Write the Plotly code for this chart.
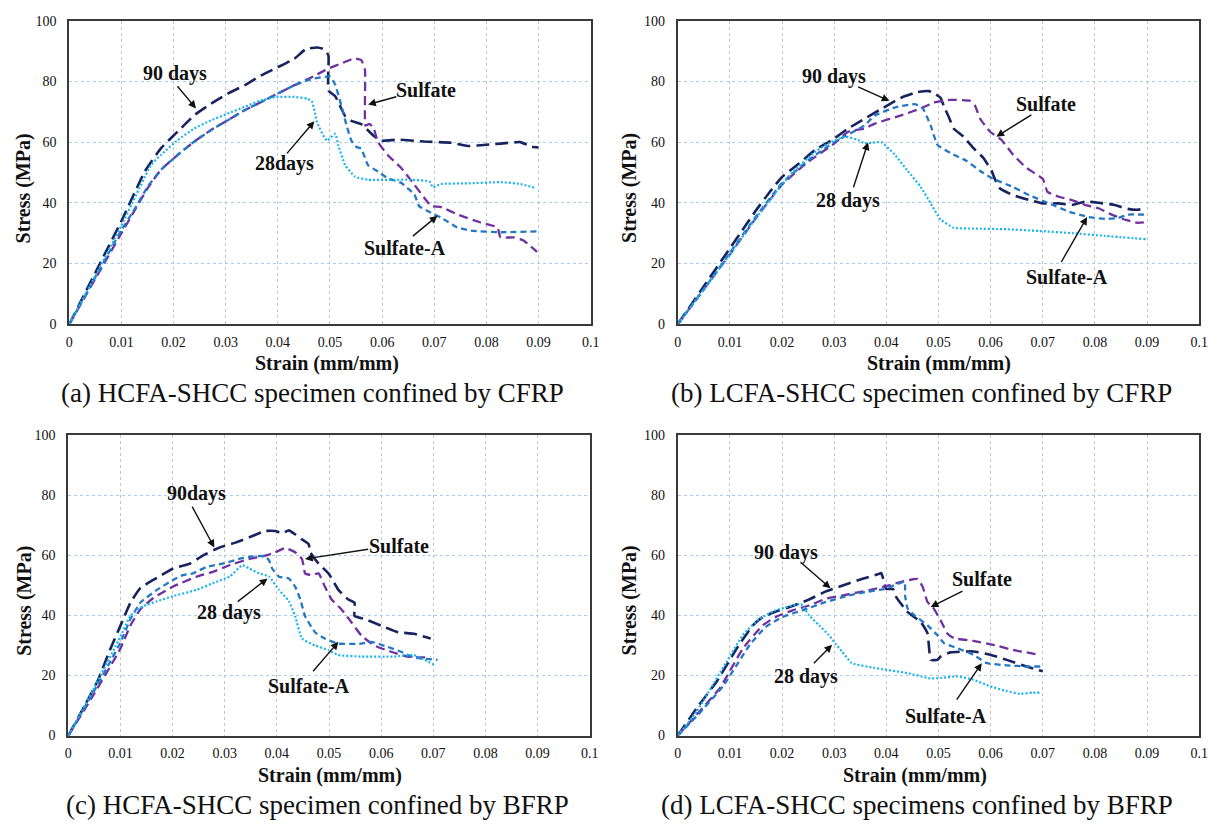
import plotly.graph_objects as go

# ---------------- data (strain, stress) ----------------
SERIES = ["90 days", "Sulfate", "Sulfate-A", "28 days"]

# (a) HCFA-SHCC / CFRP
A_90_X = [0, 0.005, 0.01, 0.0145, 0.0176, 0.0208, 0.024, 0.0272, 0.0304, 0.0336, 0.0368, 0.04, 0.0431, 0.0454, 0.0476, 0.0489, 0.0497, 0.0497, 0.051, 0.0529, 0.0541, 0.056, 0.0583, 0.0598, 0.063, 0.0681, 0.0732, 0.0764, 0.0783, 0.0827, 0.0865, 0.0887, 0.09]
A_90_Y = [0, 17, 34, 50.4, 58, 63.5, 68.9, 72.7, 76, 78.7, 82, 84.7, 87.4, 90.7, 91.2, 90.6, 88.5, 77, 75.1, 68.6, 67, 65.9, 62.2, 60.5, 60.8, 60.2, 59.8, 58.7, 58.9, 59.5, 60, 58.5, 58.2]
A_SU_X = [0, 0.005, 0.01, 0.0122, 0.0151, 0.0176, 0.0208, 0.024, 0.0272, 0.0304, 0.0336, 0.0368, 0.04, 0.0431, 0.0463, 0.0495, 0.0527, 0.0546, 0.056, 0.0567, 0.0568, 0.0575, 0.0583, 0.0592, 0.0611, 0.0637, 0.0662, 0.0681, 0.0694, 0.0713, 0.0744, 0.0789, 0.0821, 0.0827, 0.0852, 0.0871, 0.0897]
A_SU_Y = [0, 15, 30, 36.5, 45, 50.9, 55.8, 60.2, 64, 67.2, 70.5, 73.2, 76, 78.7, 81.2, 84.1, 86.3, 87.6, 87, 83.8, 65.4, 66, 64.9, 60, 55.7, 51.4, 45.9, 41.6, 38.9, 38.6, 36.2, 33.5, 31.9, 28.6, 28.6, 27.6, 23.8]
A_SA_X = [0, 0.005, 0.01, 0.0122, 0.0151, 0.0176, 0.0208, 0.024, 0.0272, 0.0304, 0.0336, 0.0368, 0.04, 0.0431, 0.0463, 0.05, 0.051, 0.0522, 0.0532, 0.0541, 0.0551, 0.056, 0.0573, 0.0592, 0.0611, 0.0637, 0.0662, 0.0671, 0.0687, 0.0713, 0.0744, 0.077, 0.0827, 0.0903]
A_SA_Y = [0, 15.5, 31, 37, 45.5, 50.9, 55.8, 60.2, 64, 67.2, 70.5, 73.2, 76, 78.7, 80.7, 81.6, 78.9, 71.9, 65.4, 60.5, 58.4, 57.8, 52.4, 50.3, 48.1, 46.5, 42.7, 38.9, 37.3, 35.1, 31.9, 30.8, 30.3, 30.6]
A_28_X = [0, 0.005, 0.01, 0.0157, 0.0176, 0.0208, 0.024, 0.0272, 0.0304, 0.0336, 0.0368, 0.04, 0.0431, 0.0457, 0.0465, 0.0471, 0.0475, 0.0494, 0.051, 0.0516, 0.0529, 0.0548, 0.0573, 0.0656, 0.0691, 0.0697, 0.0713, 0.0763, 0.0827, 0.0865, 0.0894]
A_28_Y = [0, 16, 32.5, 52.5, 55.8, 60.7, 64.5, 67.2, 69.4, 71.6, 73.8, 74.9, 74.9, 74.3, 73.5, 69.7, 66.5, 60.5, 62.7, 58.9, 52.4, 48.6, 47.6, 47.6, 47, 45.1, 46.2, 46.4, 46.8, 46.2, 44.9]

# (b) LCFA-SHCC / CFRP
B_90_X = [0, 0.005, 0.01, 0.0126, 0.015, 0.0176, 0.02, 0.0233, 0.0264, 0.0296, 0.0327, 0.0358, 0.039, 0.0428, 0.046, 0.0482, 0.0495, 0.0504, 0.051, 0.052, 0.0529, 0.0548, 0.0567, 0.0586, 0.0602, 0.0608, 0.0618, 0.0643, 0.0674, 0.07, 0.0731, 0.0756, 0.0781, 0.0807, 0.0838, 0.0863, 0.0882, 0.0898]
B_90_Y = [0, 12.5, 25, 31.5, 37.5, 43.5, 48.5, 53, 57.5, 60.7, 64.5, 67.7, 70.9, 74.6, 76.5, 76.8, 75.7, 74.6, 72, 68.2, 64.5, 61.8, 58, 54.8, 50.5, 47.9, 44.7, 42.5, 40.9, 39.8, 39.8, 39.3, 40.4, 40, 39.3, 38, 37.7, 38.2]
B_SU_X = [0, 0.005, 0.01, 0.015, 0.02, 0.025, 0.03, 0.0327, 0.0358, 0.0378, 0.0428, 0.0466, 0.0491, 0.0523, 0.0561, 0.057, 0.058, 0.0599, 0.0621, 0.0643, 0.0668, 0.07, 0.0709, 0.0731, 0.0756, 0.0781, 0.0807, 0.0832, 0.0857, 0.0882, 0.0898]
B_SU_Y = [0, 11.5, 23, 35, 46, 53.5, 59.5, 63.4, 64.5, 66.1, 68.8, 71.1, 73, 73.9, 73.6, 72, 67.7, 63.4, 60.7, 55.9, 51.6, 47.9, 43.6, 42, 40.9, 39.3, 38.2, 36.1, 34.5, 33.4, 33.6]
B_SA_X = [0, 0.005, 0.01, 0.015, 0.02, 0.025, 0.03, 0.0358, 0.0378, 0.0416, 0.0454, 0.0469, 0.0485, 0.0498, 0.0523, 0.0554, 0.058, 0.0605, 0.0643, 0.0674, 0.0712, 0.075, 0.0788, 0.082, 0.0845, 0.0863, 0.0898]
B_SA_Y = [0, 11.5, 23.5, 35.5, 46.5, 54, 60, 65.5, 68.8, 71.4, 72.5, 71.4, 65.5, 59.1, 56.4, 53.8, 50.5, 47.9, 45.2, 42.5, 39.8, 37.1, 35.3, 34.7, 35, 36.1, 36.1]
B_28_X = [0, 0.005, 0.01, 0.015, 0.02, 0.022, 0.0264, 0.0296, 0.0321, 0.0346, 0.0358, 0.039, 0.0416, 0.0441, 0.0466, 0.0485, 0.0504, 0.0529, 0.0567, 0.063, 0.0693, 0.0756, 0.0819, 0.0898]
B_28_Y = [0, 11.5, 23, 35, 46, 50, 56.9, 60.2, 61.8, 60.7, 59.6, 60, 55.9, 50.5, 45.2, 39.8, 34.5, 31.8, 31.5, 31.3, 30.7, 30, 29.1, 28]

# (c) HCFA-SHCC / BFRP
C_90_X = [0, 0.003, 0.0056, 0.0081, 0.01, 0.0119, 0.0138, 0.0163, 0.0201, 0.0233, 0.0258, 0.029, 0.0322, 0.0353, 0.0378, 0.0397, 0.041, 0.0423, 0.0435, 0.0448, 0.0461, 0.0464, 0.048, 0.0499, 0.0518, 0.0537, 0.0549, 0.0549, 0.0568, 0.06, 0.0632, 0.0663, 0.0695]
C_90_Y = [0, 9.5, 18.1, 29, 36.6, 44.2, 49.1, 51.8, 55.6, 57.2, 59.9, 62.6, 64.3, 66.4, 68.1, 68.1, 67.3, 68.3, 67, 65.3, 63.7, 61, 57.2, 54, 48.5, 45.3, 44.2, 39.8, 38.8, 36.6, 34.4, 33.9, 32.3]
C_SU_X = [0, 0.005, 0.01, 0.0119, 0.0138, 0.0163, 0.0201, 0.0246, 0.0277, 0.0309, 0.0347, 0.0378, 0.0397, 0.0416, 0.0435, 0.0448, 0.0451, 0.0454, 0.0467, 0.048, 0.0492, 0.0505, 0.0524, 0.0543, 0.0562, 0.0587, 0.0619, 0.0651, 0.0695]
C_SU_Y = [0, 14, 29, 36.6, 42, 45.8, 49.6, 52.9, 54.5, 56.7, 58.8, 59.9, 61, 62.4, 61, 58.8, 56.7, 54, 53.4, 54, 49.6, 45.3, 42, 37.7, 33.3, 30, 27.9, 26.3, 26]
C_SA_X = [0, 0.005, 0.01, 0.0119, 0.0138, 0.017, 0.0201, 0.022, 0.0239, 0.0265, 0.0296, 0.0328, 0.0353, 0.0378, 0.0385, 0.0391, 0.0404, 0.0423, 0.0435, 0.0445, 0.0454, 0.0473, 0.0492, 0.0518, 0.0562, 0.0581, 0.0613, 0.0638, 0.0663, 0.0708]
C_SA_Y = [0, 15, 31, 38.8, 44.2, 48.5, 51.8, 53.4, 54, 56.1, 57.2, 58.8, 59.6, 59.7, 58.3, 55.6, 52.9, 52.3, 49.6, 45.3, 39.8, 34.4, 32.3, 30.6, 30.6, 31.2, 29.5, 27.9, 26, 25.2]
C_28_X = [0, 0.005, 0.01, 0.0119, 0.0144, 0.017, 0.0201, 0.0246, 0.0277, 0.0309, 0.0334, 0.0347, 0.0366, 0.0385, 0.0404, 0.0423, 0.0435, 0.0448, 0.0473, 0.0499, 0.0518, 0.0562, 0.0625, 0.0663, 0.0701]
C_28_Y = [0, 16, 33, 39.8, 43.1, 44.7, 46.4, 48.5, 50.7, 52.9, 56.7, 55.6, 54, 52.9, 48.5, 44.7, 39.8, 32.3, 30, 28.4, 26.8, 26.3, 26.3, 26.8, 23.6]

# (d) LCFA-SHCC / BFRP
D_90_X = [0, 0.0037, 0.0075, 0.0113, 0.0144, 0.0163, 0.0188, 0.022, 0.0252, 0.0283, 0.0315, 0.0353, 0.0384, 0.039, 0.0396, 0.04, 0.0413, 0.0419, 0.0441, 0.0466, 0.0479, 0.0482, 0.0485, 0.0498, 0.0504, 0.0523, 0.0567, 0.0599, 0.0631, 0.0669, 0.07]
D_90_Y = [0, 9.3, 18.1, 29, 36.7, 39.5, 41.3, 43.1, 45.3, 47.9, 49.9, 52.1, 53.7, 54.1, 51, 48.8, 48.8, 46.1, 41.1, 37.8, 34, 29.1, 25.2, 25.2, 26.3, 27.7, 28, 26.9, 25.2, 23, 21.4]
D_SU_X = [0, 0.0037, 0.0081, 0.0125, 0.0163, 0.0188, 0.022, 0.0252, 0.0283, 0.0315, 0.0346, 0.0378, 0.0403, 0.0428, 0.046, 0.047, 0.0479, 0.0489, 0.0504, 0.0517, 0.053, 0.0567, 0.0605, 0.0643, 0.0694]
D_SU_Y = [0, 7.1, 15.9, 29, 36.7, 39.5, 41.7, 43.3, 45.5, 46.6, 47.7, 48.8, 49.9, 51.2, 52.1, 49.4, 44.4, 42.8, 38.4, 34, 32.4, 31.5, 30.2, 28.5, 26.9]
D_SA_X = [0, 0.0037, 0.0087, 0.0138, 0.0169, 0.0201, 0.0239, 0.0283, 0.0327, 0.0365, 0.0397, 0.041, 0.0435, 0.0436, 0.0441, 0.0454, 0.0479, 0.0498, 0.0511, 0.0536, 0.0567, 0.0593, 0.0631, 0.0669, 0.07]
D_SA_Y = [0, 6.6, 16.5, 30.2, 36.2, 39.5, 41.7, 44.4, 46.6, 47.9, 48.8, 49.7, 51.2, 46.6, 42.2, 40, 36.7, 33.4, 30.7, 29.1, 26.9, 24.1, 23.4, 23, 23]
D_28_X = [0, 0.0037, 0.0094, 0.0125, 0.0157, 0.0188, 0.022, 0.0236, 0.0252, 0.0271, 0.029, 0.0302, 0.0315, 0.0334, 0.0378, 0.0441, 0.0485, 0.0504, 0.0536, 0.0567, 0.0599, 0.0631, 0.0656, 0.0681, 0.0694]
D_28_Y = [0, 8.2, 24.7, 33.5, 38.9, 41.7, 43.3, 43.9, 40, 36.7, 33.4, 30.7, 28, 24.1, 22.5, 20.8, 19, 19.2, 19.7, 18.6, 16.4, 14.8, 13.9, 14.3, 14.3]

X_TICKS = [0, 0.01, 0.02, 0.03, 0.04, 0.05, 0.06, 0.07, 0.08, 0.09, 0.1]
X_TICK_TEXT = ["0", "0.01", "0.02", "0.03", "0.04", "0.05", "0.06", "0.07", "0.08", "0.09", "0.1"]
Y_TICKS = [0, 20, 40, 60, 80, 100]
X_TITLE = "Strain (mm/mm)"
Y_TITLE = "Stress (MPa)"
CAPTIONS = ["(a) HCFA-SHCC specimen confined by CFRP",
            "(b) LCFA-SHCC specimen confined by CFRP",
            "(c) HCFA-SHCC specimen confined by BFRP",
            "(d) LCFA-SHCC specimens confined by BFRP"]
LABEL_90 = ["90 days", "90 days", "90days", "90 days"]
LABEL_28 = ["28days", "28 days", "28 days", "28 days"]

PANELS = [
    [(A_90_X, A_90_Y), (A_SU_X, A_SU_Y), (A_SA_X, A_SA_Y), (A_28_X, A_28_Y)],
    [(B_90_X, B_90_Y), (B_SU_X, B_SU_Y), (B_SA_X, B_SA_Y), (B_28_X, B_28_Y)],
    [(C_90_X, C_90_Y), (C_SU_X, C_SU_Y), (C_SA_X, C_SA_Y), (C_28_X, C_28_Y)],
    [(D_90_X, D_90_Y), (D_SU_X, D_SU_Y), (D_SA_X, D_SA_Y), (D_28_X, D_28_Y)],
]

# ---------------- styling ----------------
W, H = 1225, 830
SERIF = "Liberation Serif, Times New Roman, serif"
COLORS = ["#17245f", "#7030a0", "#2378c4", "#19b4ee"]
DASHES = ["13px,6px", "9px,5px", "6px,4px", "2px,2px"]
WIDTHS = [2.6, 2.3, 2.3, 2.2]

# plot-area pixel boxes: left, right, top, bottom
BOXES = [(66, 593, 14, 323), (681, 1208, 14, 323), (65, 592, 436, 742), (681, 1208, 436, 742)]

# annotation layout per panel: (label, text x, text y, tail x, tail y, tip x, tip y)
NOTES = [
    [(0, 0.0202, 82.5, 0.0205, 78.9, 0.0243, 71.1), (1, 0.0684, 77.3, 0.063, 75.1, 0.0573, 72.4),
     (3, 0.0412, 52.8, 0.0415, 55.8, 0.047, 66.9), (2, 0.0643, 25.2, 0.0656, 28.6, 0.0706, 35.7)],
    [(0, 0.0299, 81.6, 0.0343, 78.4, 0.0406, 73.6), (1, 0.0706, 72.5, 0.0681, 69.3, 0.0611, 61.8),
     (3, 0.0326, 40.9, 0.0336, 44.6, 0.0365, 59.9), (2, 0.0747, 15.4, 0.0734, 20.0, 0.0785, 35.3)],
    [(0, 0.0246, 80.5, 0.0236, 76.7, 0.028, 62.6), (1, 0.0635, 63.2, 0.0578, 62.1, 0.0454, 58.8),
     (3, 0.0309, 40.9, 0.0322, 44.2, 0.0382, 52.3), (2, 0.0461, 16.5, 0.0467, 20.9, 0.0518, 31.2)],
    [(0, 0.0207, 60.9, 0.0236, 57.6, 0.0293, 49.0), (1, 0.0583, 52.1, 0.0549, 48.3, 0.0485, 42.8),
     (3, 0.0245, 19.7, 0.0258, 23.6, 0.0296, 30.2), (2, 0.0514, 6.6, 0.0533, 11.5, 0.0583, 24.1)],
]

CAPTION_POS = [(312, 393), (927, 393), (317, 813), (923, 813)]
XTITLE_POS = [(326, 363), (945, 363), (329, 783), (921, 783)]
YTITLE_POS = [(20, 185), (632, 184), (20, 605), (632, 604)]

fig = go.Figure()
annotations = []
layout_axes = {}


def paper_text(px, py, text, size, angle=0):
    return dict(x=px / W, y=1 - py / H, xref="paper", yref="paper", text=text,
                xanchor="center", yanchor="middle", textangle=angle, showarrow=False,
                font=dict(family=SERIF, size=size, color="#111"))


for i, panel in enumerate(PANELS):
    n = "" if i == 0 else str(i + 1)
    xa, ya = "x" + n, "y" + n
    l, r, t, b = BOXES[i]
    layout_axes["xaxis" + n] = dict(
        domain=[l / W, r / W], anchor=ya, range=[0, 0.1],
        tickvals=X_TICKS, ticktext=X_TICK_TEXT, ticks="", ticklabelstandoff=4,
        showgrid=True, gridcolor="#c4c4c4", griddash="3px,3px", gridwidth=1,
        showline=True, mirror=True, linecolor="#3a3a3a", linewidth=2,
        zeroline=False, tickfont=dict(family=SERIF, size=14, color="#111"),
        fixedrange=True,
    )
    layout_axes["yaxis" + n] = dict(
        domain=[1 - b / H, 1 - t / H], anchor=xa, range=[0, 100],
        tickvals=Y_TICKS, ticks="", ticklabelstandoff=8,
        showgrid=True, gridcolor="#a9cdef", griddash="3px,3px", gridwidth=1,
        showline=True, mirror=True, linecolor="#3a3a3a", linewidth=2,
        zeroline=False, tickfont=dict(family=SERIF, size=14, color="#111"),
        fixedrange=True,
    )
    for k, (xs, ys) in enumerate(panel):
        fig.add_trace(go.Scatter(
            x=xs, y=ys, mode="lines", name=SERIES[k], xaxis=xa, yaxis=ya,
            line=dict(color=COLORS[k], width=WIDTHS[k], dash=DASHES[k], shape="spline", smoothing=0.4),
            showlegend=False, hoverinfo="skip",
        ))
    for (k, tx, ty, ax, ay, hx, hy) in NOTES[i]:
        if k == 0:
            label = LABEL_90[i]
        elif k == 3:
            label = LABEL_28[i]
        else:
            label = SERIES[k]
        annotations.append(dict(
            x=tx, y=ty, xref=xa, yref=ya, text="<b>" + label + "</b>", showarrow=False,
            xanchor="center", yanchor="middle",
            font=dict(family=SERIF, size=20, color="#111"),
        ))
        annotations.append(dict(
            x=hx, y=hy, ax=ax, ay=ay, xref=xa, yref=ya, axref=xa, ayref=ya, text="",
            showarrow=True, arrowhead=2, arrowsize=1.1, arrowwidth=1.4, arrowcolor="#111",
        ))
    cx, cy = CAPTION_POS[i]
    annotations.append(paper_text(cx, cy, CAPTIONS[i], 27))
    cx, cy = XTITLE_POS[i]
    annotations.append(paper_text(cx, cy, "<b>" + X_TITLE + "</b>", 20))
    cx, cy = YTITLE_POS[i]
    annotations.append(paper_text(cx, cy, "<b>" + Y_TITLE + "</b>", 20, angle=-90))

fig.update_layout(
    width=W, height=H, margin=dict(l=0, r=0, t=0, b=0),
    paper_bgcolor="white", plot_bgcolor="white",
    annotations=annotations, showlegend=False, **layout_axes,
)

fig.write_html("out.html", config={"displayModeBar": False})
